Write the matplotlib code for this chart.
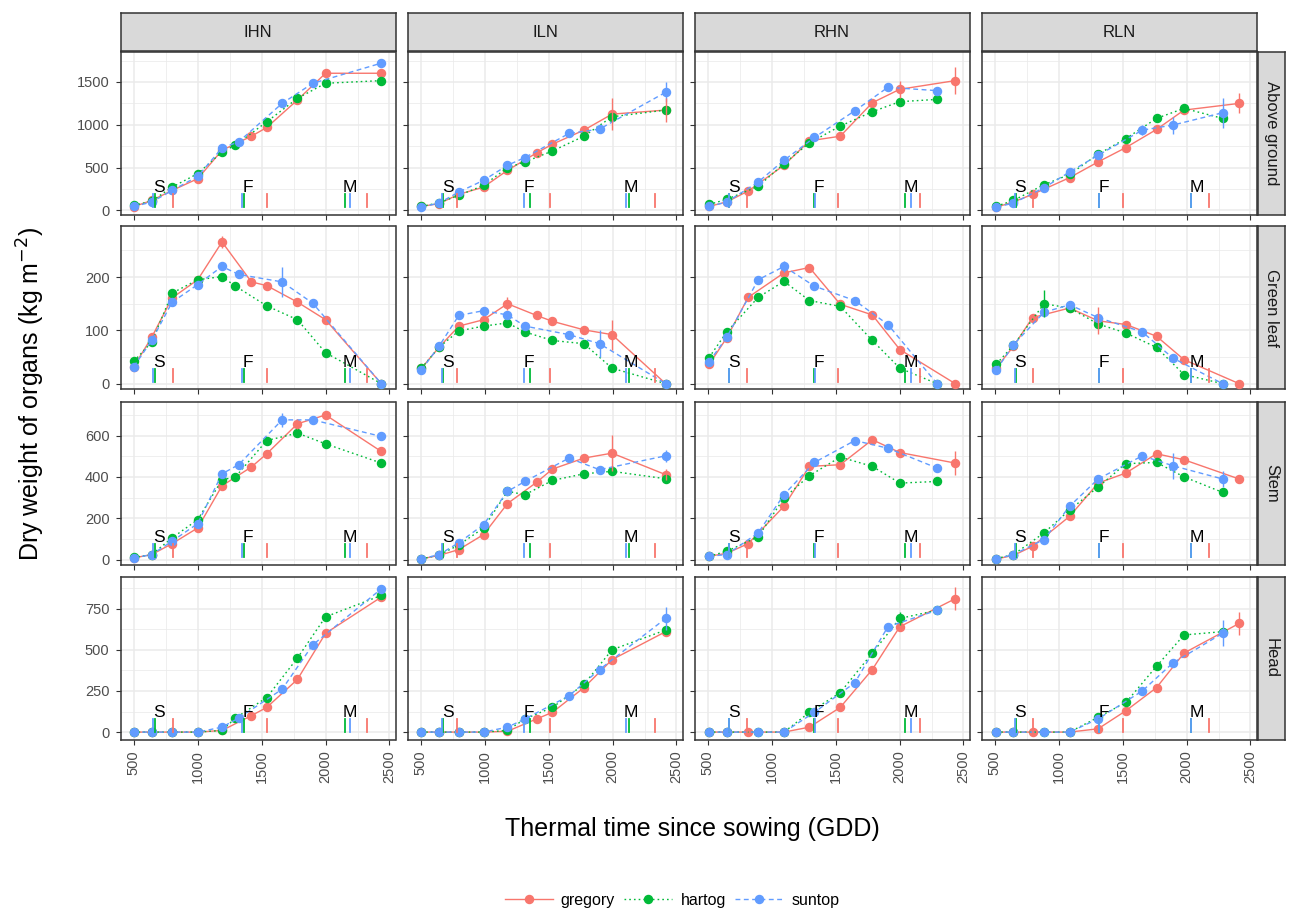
import matplotlib
matplotlib.use('Agg')
import matplotlib.pyplot as plt
from matplotlib.lines import Line2D

plt.rcParams['font.family'] = ['Liberation Sans', 'DejaVu Sans']

# ---------------- data ----------------
treatments = ['IHN', 'ILN', 'RHN', 'RLN']
organs = ['Above ground', 'Green leaf', 'Stem', 'Head']
cultivars = ['gregory', 'hartog', 'suntop']
stage_labels = ['S', 'F', 'M']

# IHN
IHN_gregory_tt    = [500, 640, 800, 1000, 1190, 1420, 1540, 1780, 2000, 2436]
IHN_gregory_above = [45, 117, 234, 371, 703, 867, 969, 1290, 1602, 1602]
IHN_gregory_leaf  = [32, 87, 161, 195, 266, 191, 184, 153, 120, 0]
IHN_gregory_stem  = [8, 24, 77, 153, 357, 448, 512, 657, 700, 523]
IHN_gregory_head  = [0, 0, 0, 0, 10, 100, 150, 320, 600, 820]

IHN_hartog_tt     = [500, 640, 800, 1000, 1190, 1295, 1540, 1780, 2000, 2436]
IHN_hartog_above  = [59, 110, 273, 430, 683, 762, 1035, 1309, 1485, 1516]
IHN_hartog_leaf   = [42, 78, 170, 195, 201, 183, 146, 120, 58, 0]
IHN_hartog_stem   = [10, 24, 105, 193, 386, 400, 576, 612, 560, 467]
IHN_hartog_head   = [0, 0, 0, 0, 10, 85, 210, 450, 700, 830]

IHN_suntop_tt     = [500, 640, 800, 1000, 1190, 1320, 1660, 1900, 2436]
IHN_suntop_above  = [47, 98, 234, 398, 730, 801, 1250, 1485, 1720]
IHN_suntop_leaf   = [32, 81, 153, 186, 220, 205, 191, 151, 0]
IHN_suntop_stem   = [8, 24, 89, 174, 415, 459, 676, 676, 596]
IHN_suntop_head   = [0, 0, 0, 0, 30, 85, 260, 530, 870]

# ILN
ILN_gregory_tt    = [505, 642, 797, 991, 1178, 1406, 1530, 1776, 1996, 2415]
ILN_gregory_above = [47, 80, 188, 273, 469, 672, 774, 938, 1125, 1172]
ILN_gregory_leaf  = [29, 68, 108, 120, 150, 128, 117, 101, 92, 0]
ILN_gregory_stem  = [3, 20, 48, 121, 271, 374, 438, 491, 515, 411]
ILN_gregory_head  = [0, 0, 0, 0, 5, 80, 120, 270, 440, 610]

ILN_hartog_tt     = [505, 642, 797, 991, 1178, 1315, 1530, 1776, 1996, 2415]
ILN_hartog_above  = [47, 90, 176, 293, 500, 567, 695, 867, 1094, 1172]
ILN_hartog_leaf   = [29, 68, 99, 108, 114, 97, 81, 75, 29, 0]
ILN_hartog_stem   = [3, 22, 70, 153, 330, 314, 383, 415, 427, 391]
ILN_hartog_head   = [0, 0, 0, 0, 10, 80, 150, 290, 500, 620]

ILN_suntop_tt     = [505, 642, 797, 991, 1178, 1315, 1659, 1898, 2415]
ILN_suntop_above  = [40, 86, 215, 352, 528, 618, 899, 950, 1380]
ILN_suntop_leaf   = [26, 70, 128, 137, 129, 108, 92, 75, 0]
ILN_suntop_stem   = [3, 24, 81, 169, 330, 378, 491, 435, 502]
ILN_suntop_head   = [0, 0, 0, 0, 30, 80, 220, 380, 690]

# RHN
RHN_gregory_tt    = [510, 648, 816, 1096, 1295, 1536, 1787, 2002, 2435]
RHN_gregory_above = [47, 100, 227, 528, 813, 867, 1258, 1415, 1516]
RHN_gregory_leaf  = [36, 86, 162, 208, 218, 149, 129, 64, 0]
RHN_gregory_stem  = [16, 30, 77, 258, 451, 459, 580, 518, 467]
RHN_gregory_head  = [0, 0, 0, 0, 30, 150, 380, 640, 810]

RHN_hartog_tt     = [510, 648, 894, 1096, 1295, 1536, 1787, 2002, 2293]
RHN_hartog_above  = [70, 130, 281, 547, 789, 985, 1153, 1270, 1297]
RHN_hartog_leaf   = [49, 97, 162, 192, 156, 145, 81, 29, 0]
RHN_hartog_stem   = [16, 40, 110, 298, 406, 496, 451, 370, 378]
RHN_hartog_head   = [0, 0, 0, 0, 120, 240, 480, 690, 740]

RHN_suntop_tt     = [510, 648, 894, 1096, 1334, 1650, 1909, 2293]
RHN_suntop_above  = [47, 98, 332, 586, 852, 1164, 1438, 1399]
RHN_suntop_leaf   = [41, 87, 195, 220, 183, 156, 111, 0]
RHN_suntop_stem   = [16, 24, 129, 314, 470, 576, 539, 443]
RHN_suntop_head   = [0, 0, 0, 0, 120, 300, 640, 740]

# RLN
RLN_gregory_tt    = [513, 646, 795, 1085, 1308, 1526, 1765, 1980, 2411]
RLN_gregory_above = [39, 100, 188, 383, 567, 735, 946, 1172, 1250]
RLN_gregory_leaf  = [30, 70, 124, 142, 118, 111, 89, 45, 0]
RLN_gregory_stem  = [3, 20, 64, 209, 370, 419, 512, 483, 390]
RLN_gregory_head  = [0, 0, 0, 0, 20, 130, 270, 480, 660]

RLN_hartog_tt     = [513, 646, 885, 1085, 1308, 1526, 1765, 1980, 2282]
RLN_hartog_above  = [50, 117, 301, 420, 657, 840, 1075, 1192, 1075]
RLN_hartog_leaf   = [37, 72, 150, 142, 112, 95, 68, 17, 0]
RLN_hartog_stem   = [5, 24, 129, 240, 351, 464, 470, 400, 325]
RLN_hartog_head   = [0, 0, 0, 0, 90, 180, 400, 590, 610]

RLN_suntop_tt     = [513, 646, 885, 1085, 1308, 1654, 1893, 2282]
RLN_suntop_above  = [39, 86, 266, 449, 645, 938, 997, 1141]
RLN_suntop_leaf   = [26, 73, 134, 148, 124, 97, 48, 0]
RLN_suntop_stem   = [3, 24, 97, 258, 390, 502, 454, 390]
RLN_suntop_head   = [0, 0, 0, 0, 80, 250, 420, 600]

# phenology (S, F, M) thermal times, per treatment IHN, ILN, RHN, RLN
pheno_gregory = [[804, 1540, 2324], [786, 1508, 2334], [803, 1515, 2163], [795, 1500, 2175]]
pheno_hartog  = [[664, 1360, 2150], [675, 1357, 2132], [662, 1329, 2046], [662, 1313, 2038]]
pheno_suntop  = [[654, 1350, 2189], [669, 1305, 2106], [666, 1339, 2090], [660, 1313, 2038]]

# visible error bars: (treatment, organ, cultivar, tt, half width)
error_bars = [
    ('IHN', 'Green leaf', 'suntop', 1660, 28), ('IHN', 'Green leaf', 'gregory', 1190, 12),
    ('IHN', 'Stem', 'suntop', 1660, 35), ('IHN', 'Stem', 'gregory', 1780, 25),
    ('IHN', 'Stem', 'gregory', 2000, 20), ('IHN', 'Above ground', 'suntop', 2436, 40),
    ('ILN', 'Above ground', 'gregory', 1996, 185), ('ILN', 'Above ground', 'suntop', 2415, 117),
    ('ILN', 'Above ground', 'gregory', 2415, 137), ('ILN', 'Green leaf', 'gregory', 1996, 28),
    ('ILN', 'Green leaf', 'suntop', 1898, 25), ('ILN', 'Green leaf', 'gregory', 1178, 12),
    ('ILN', 'Stem', 'gregory', 1996, 88), ('ILN', 'Stem', 'suntop', 2415, 30),
    ('ILN', 'Stem', 'gregory', 2415, 25), ('ILN', 'Head', 'suntop', 2415, 70),
    ('RHN', 'Above ground', 'gregory', 2435, 156), ('RHN', 'Above ground', 'gregory', 2002, 100),
    ('RHN', 'Stem', 'gregory', 2435, 60), ('RHN', 'Head', 'gregory', 2435, 70),
    ('RHN', 'Head', 'hartog', 2002, 40), ('RHN', 'Green leaf', 'suntop', 1096, 10),
    ('RLN', 'Above ground', 'suntop', 2282, 176), ('RLN', 'Above ground', 'gregory', 2411, 117),
    ('RLN', 'Above ground', 'suntop', 1893, 100), ('RLN', 'Above ground', 'suntop', 1654, 60),
    ('RLN', 'Green leaf', 'hartog', 885, 25), ('RLN', 'Green leaf', 'gregory', 1308, 25),
    ('RLN', 'Stem', 'suntop', 1893, 64), ('RLN', 'Stem', 'suntop', 2282, 40),
    ('RLN', 'Head', 'suntop', 2282, 80), ('RLN', 'Head', 'gregory', 2411, 70),
]

# tick breaks per row
x_breaks = [500, 1000, 1500, 2000, 2500]
y_breaks = [[0, 500, 1000, 1500], [0, 100, 200], [0, 200, 400, 600], [0, 250, 500, 750]]

# ---------------- build table ----------------
g = globals()
organ_key = {'Above ground': 'above', 'Green leaf': 'leaf', 'Stem': 'stem', 'Head': 'head'}
table = {}
for t in treatments:
    for c in cultivars:
        table[(t, c)] = {'tt': g[f'{t}_{c}_tt']}
        for o in organs:
            table[(t, c)][o] = g[f'{t}_{c}_{organ_key[o]}']
pheno = {'gregory': pheno_gregory, 'hartog': pheno_hartog, 'suntop': pheno_suntop}

# ---------------- style ----------------
colors = {'gregory': '#F8766D', 'hartog': '#00BA38', 'suntop': '#619CFF'}
lstyles = {'gregory': '-', 'hartog': (0, (1.2, 2.2)), 'suntop': (0, (3.5, 2.5))}

W, H = 1298, 913
fig = plt.figure(figsize=(W / 100, H / 100), dpi=100)

col_left = [120.5, 407.5, 694.5, 981.5]
col_w = 275
row_top = [51.5, 226.5, 401.5, 576.5]
row_h = 163
xlim = (396, 2547)
ylims = [(-47, 1856), (-11, 295), (-24, 765), (-45, 945)]
MS = 5.8

def fx(px):
    return px / W

def fy(py):
    return 1 - py / H

def minor_between(br, lo, hi):
    step = br[1] - br[0]
    vals = []
    v = br[0] - step / 2
    while v <= hi:
        if v >= lo:
            vals.append(v)
        v += step
    return [m for m in vals if m not in br]

border_col = '#333333'
for ri, organ in enumerate(organs):
    for ci, t in enumerate(treatments):
        ax = fig.add_axes([fx(col_left[ci]), fy(row_top[ri] + row_h), fx(col_w), row_h / H])
        ax.set_xlim(*xlim)
        ax.set_ylim(*ylims[ri])
        ax.set_facecolor('white')
        ax.set_xticks(x_breaks)
        ax.set_xticks(minor_between(x_breaks, *xlim), minor=True)
        ax.set_yticks(y_breaks[ri])
        ax.set_yticks(minor_between(y_breaks[ri], *ylims[ri]), minor=True)
        ax.grid(True, which='major', color='#EBEBEB', lw=1.1, zorder=0)
        ax.grid(True, which='minor', color='#EBEBEB', lw=0.55, zorder=0)
        ax.set_axisbelow(True)
        for s in ax.spines.values():
            s.set_color(border_col)
            s.set_linewidth(1.1)
        ax.tick_params(which='minor', length=0)
        ax.tick_params(which='major', length=3.5, width=0.8, color=border_col,
                       labelsize=10.5, labelcolor='#4D4D4D', pad=4.5)
        if ci != 0:
            ax.tick_params(axis='y', labelleft=False)
        if ri != 3:
            ax.tick_params(axis='x', labelbottom=False)
        else:
            for lab in ax.get_xticklabels():
                lab.set_rotation(90)

        # series
        for c in cultivars:
            d = table[(t, c)]
            ax.plot(d['tt'], d[organ], color=colors[c], ls=lstyles[c], lw=1.0,
                    marker='o', ms=MS, mec=colors[c], mfc=colors[c], zorder=3)
        for (et, eo, ec, ett, ew) in error_bars:
            if et == t and eo == organ:
                d = table[(et, ec)]
                yv = d[organ][d['tt'].index(ett)]
                ax.errorbar([ett], [yv], yerr=[ew], color=colors[ec], lw=1.0,
                            capsize=0, fmt='none', zorder=3)

        # phenology ticks and labels
        for c in cultivars:
            for k, xv in enumerate(pheno[c][ci]):
                ax.axvline(xv, ymin=0.045, ymax=0.125, color=colors[c], lw=1.3, zorder=4)
        for k, lab in enumerate(stage_labels):
            xs = min(pheno[c][ci][k] for c in cultivars)
            ax.text(xs + 40, 0.165, lab, transform=ax.get_xaxis_transform(),
                    ha='center', va='center', fontsize=12.5, color='black', zorder=5)

        # top strip
        if ri == 0:
            sax = fig.add_axes([fx(col_left[ci]), fy(row_top[0]), fx(col_w), 38.5 / H])
            sax.set_xticks([]); sax.set_yticks([])
            sax.set_facecolor('#D9D9D9')
            for s in sax.spines.values():
                s.set_color(border_col); s.set_linewidth(1.1)
            sax.text(0.5, 0.5, t, ha='center', va='center', fontsize=12,
                     color='#1A1A1A', transform=sax.transAxes)
        # right strip
        if ci == 3:
            rax = fig.add_axes([fx(col_left[3] + col_w + 1.5), fy(row_top[ri] + row_h),
                                fx(27), row_h / H])
            rax.set_xticks([]); rax.set_yticks([])
            rax.set_facecolor('#D9D9D9')
            for s in rax.spines.values():
                s.set_color(border_col); s.set_linewidth(1.1)
            rax.text(0.5, 0.5, organ, ha='center', va='center', rotation=270,
                     fontsize=12, color='#1A1A1A', transform=rax.transAxes)

# axis titles
fig.text(fx(692), fy(829), 'Thermal time since sowing (GDD)', ha='center', va='center',
         fontsize=18, color='black')
fig.text(fx(31), fy(394), 'Dry weight of organs (kg m$^{-2}$)', ha='center', va='center',
         rotation=90, fontsize=18, color='black')

# legend
handles = [Line2D([0], [0], color=colors[c], ls=lstyles[c], lw=1.0, marker='o', ms=MS)
           for c in cultivars]
fig.legend(handles, cultivars, loc='center', bbox_to_anchor=(fx(672), fy(900)), ncol=3,
           frameon=False, fontsize=11.5, handlelength=3.0, columnspacing=0.6,
           handletextpad=0.5)

fig.savefig('out.png', dpi=100)
